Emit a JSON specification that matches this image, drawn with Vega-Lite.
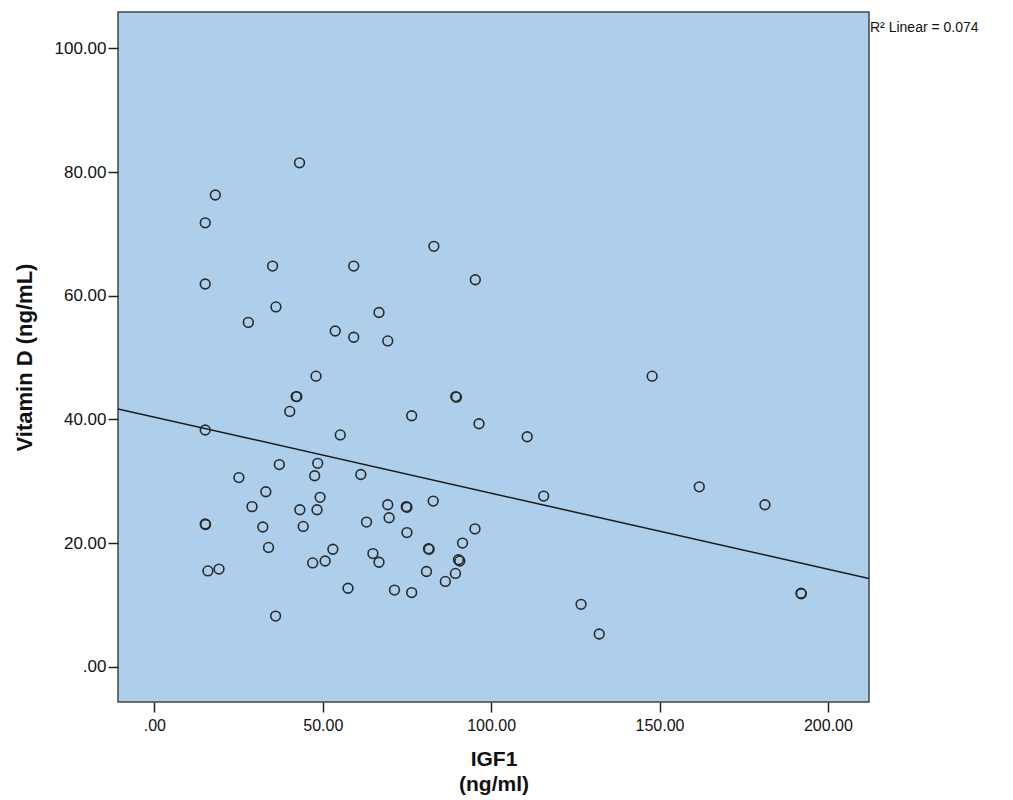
{
  "$schema": "https://vega.github.io/schema/vega-lite/v6.json",
  "width": 751,
  "height": 690,
  "autosize": {"type": "none"},
  "padding": {"left": 118, "top": 12, "right": 144, "bottom": 98},
  "background": "white",
  "config": {
    "font": "Liberation Sans",
    "view": {"fill": "#AECFEC", "stroke": "#444444", "strokeWidth": 1.5},
    "axis": {"grid": false, "domain": false, "tickColor": "#222222", "tickSize": 10, "tickWidth": 1.5, "labelColor": "#111111", "titleColor": "#111111", "titleFontWeight": "bold"}
  },
  "data": {"values": [
    {"igf1": 43.1, "vitd": 81.5}, {"igf1": 18.1, "vitd": 76.3}, {"igf1": 15.1, "vitd": 71.8},
    {"igf1": 35.1, "vitd": 64.8}, {"igf1": 59.2, "vitd": 64.8}, {"igf1": 15.1, "vitd": 61.9},
    {"igf1": 36.1, "vitd": 58.2}, {"igf1": 27.9, "vitd": 55.7}, {"igf1": 53.7, "vitd": 54.3},
    {"igf1": 59.2, "vitd": 53.3}, {"igf1": 48.0, "vitd": 47.0}, {"igf1": 42.1, "vitd": 43.7},
    {"igf1": 42.3, "vitd": 43.7}, {"igf1": 40.2, "vitd": 41.3}, {"igf1": 15.1, "vitd": 38.3},
    {"igf1": 55.2, "vitd": 37.5}, {"igf1": 37.1, "vitd": 32.7}, {"igf1": 48.5, "vitd": 32.9},
    {"igf1": 47.6, "vitd": 30.9}, {"igf1": 61.3, "vitd": 31.1}, {"igf1": 25.1, "vitd": 30.6},
    {"igf1": 33.1, "vitd": 28.3}, {"igf1": 49.2, "vitd": 27.4}, {"igf1": 29.0, "vitd": 25.9},
    {"igf1": 43.2, "vitd": 25.4}, {"igf1": 48.3, "vitd": 25.4}, {"igf1": 15.1, "vitd": 23.1},
    {"igf1": 15.2, "vitd": 23.0}, {"igf1": 32.2, "vitd": 22.6}, {"igf1": 44.2, "vitd": 22.7},
    {"igf1": 63.0, "vitd": 23.4}, {"igf1": 33.9, "vitd": 19.3}, {"igf1": 53.0, "vitd": 19.0},
    {"igf1": 50.7, "vitd": 17.1}, {"igf1": 47.0, "vitd": 16.8}, {"igf1": 15.9, "vitd": 15.5},
    {"igf1": 19.2, "vitd": 15.8}, {"igf1": 57.5, "vitd": 12.7}, {"igf1": 36.0, "vitd": 8.2},
    {"igf1": 64.9, "vitd": 18.3}, {"igf1": 83.0, "vitd": 68.0}, {"igf1": 95.3, "vitd": 62.6},
    {"igf1": 66.7, "vitd": 57.3}, {"igf1": 69.3, "vitd": 52.7}, {"igf1": 89.5, "vitd": 43.7},
    {"igf1": 89.7, "vitd": 43.6}, {"igf1": 76.4, "vitd": 40.6}, {"igf1": 96.4, "vitd": 39.3},
    {"igf1": 69.3, "vitd": 26.2}, {"igf1": 74.8, "vitd": 25.9}, {"igf1": 75.0, "vitd": 25.8},
    {"igf1": 82.8, "vitd": 26.8}, {"igf1": 69.7, "vitd": 24.1}, {"igf1": 75.0, "vitd": 21.7},
    {"igf1": 115.6, "vitd": 27.6}, {"igf1": 95.2, "vitd": 22.3}, {"igf1": 91.5, "vitd": 20.0},
    {"igf1": 81.4, "vitd": 19.1}, {"igf1": 81.6, "vitd": 19.0}, {"igf1": 66.7, "vitd": 16.9},
    {"igf1": 90.3, "vitd": 17.3}, {"igf1": 90.7, "vitd": 17.1}, {"igf1": 80.8, "vitd": 15.4},
    {"igf1": 89.4, "vitd": 15.1}, {"igf1": 86.4, "vitd": 13.8}, {"igf1": 71.3, "vitd": 12.4},
    {"igf1": 76.4, "vitd": 12.0}, {"igf1": 147.8, "vitd": 47.0}, {"igf1": 110.7, "vitd": 37.2},
    {"igf1": 161.8, "vitd": 29.1}, {"igf1": 181.3, "vitd": 26.2}, {"igf1": 192.0, "vitd": 11.9},
    {"igf1": 192.1, "vitd": 11.8}, {"igf1": 126.7, "vitd": 10.1}, {"igf1": 132.1, "vitd": 5.3}
  ]},
  "encoding": {
    "x": {"field": "igf1", "type": "quantitative", "scale": {"domain": [-10.8, 212.2], "nice": false, "zero": false},
      "axis": {"values": [0, 50, 100, 150, 200], "labelExpr": "datum.value == 0 ? '.00' : format(datum.value, '.2f')", "labelFontSize": 16, "labelPadding": 5, "title": ["IGF1", "(ng/ml)"], "titleFontSize": 21, "titlePadding": 15, "titleLineHeight": 25}},
    "y": {"field": "vitd", "type": "quantitative", "scale": {"domain": [-5.7, 105.9], "nice": false, "zero": false},
      "axis": {"values": [0, 20, 40, 60, 80, 100], "labelExpr": "datum.value == 0 ? '.00' : format(datum.value, '.2f')", "labelFontSize": 17, "labelPadding": 2, "title": "Vitamin D (ng/mL)", "titleFontSize": 22, "titlePadding": 18}}
  },
  "layer": [
    {"mark": {"type": "point", "shape": "circle", "filled": false, "size": 95, "stroke": "#2a2a2a", "strokeWidth": 1.6, "opacity": 1}},
    {"transform": [{"regression": "vitd", "on": "igf1", "method": "linear", "extent": [-10.8, 212.2]}],
     "mark": {"type": "line", "color": "#1a1a1a", "strokeWidth": 1.5, "clip": true}},
    {"data": {"values": [{"lbl": "R² Linear = 0.074", "x": 212.2, "y": 103.3}]},
     "mark": {"type": "text", "align": "left", "baseline": "middle", "dx": 1, "fontSize": 14, "color": "#111111", "clip": false},
     "encoding": {"x": {"field": "x", "type": "quantitative"}, "y": {"field": "y", "type": "quantitative"}, "text": {"field": "lbl"}}}
  ]
}
